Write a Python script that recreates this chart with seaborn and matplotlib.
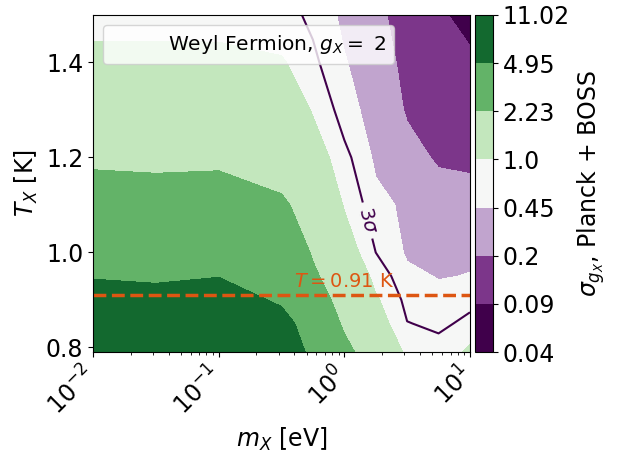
import numpy as np
import matplotlib
matplotlib.use("Agg")
import matplotlib.pyplot as plt
import matplotlib.transforms as mtransforms
import seaborn as sns

# ---- data ----
mass_eV = [0.01, 0.0316, 0.1, 0.316, 0.562, 1.0, 1.78, 3.16, 5.62, 10.0]
temp_K = [0.79, 0.85, 0.90, 0.95, 1.00, 1.10, 1.20, 1.30, 1.40, 1.50]

sigma_T079 = [8.47, 8.27, 8.53, 6.82, 4.32, 2.59, 1.47, 0.923, 0.819, 1.083]
sigma_T085 = [6.88, 6.71, 6.93, 6.05, 3.46, 2.05, 1.21, 0.709, 0.644, 0.793]
sigma_T090 = [5.77, 5.63, 5.81, 4.57, 2.85, 1.75, 1.05, 0.619, 0.562, 0.609]
sigma_T095 = [4.84, 4.68, 4.91, 3.90, 2.41, 1.49, 0.880, 0.511, 0.432, 0.464]
sigma_T100 = [4.06, 3.96, 4.09, 3.19, 2.12, 1.26, 0.698, 0.415, 0.368, 0.380]
sigma_T110 = [2.85, 2.78, 2.85, 2.45, 1.57, 0.969, 0.527, 0.392, 0.313, 0.255]
sigma_T120 = [2.04, 1.99, 2.02, 1.62, 1.22, 0.787, 0.402, 0.261, 0.179, 0.179]
sigma_T130 = [1.53, 1.52, 1.52, 1.32, 0.969, 0.571, 0.326, 0.186, 0.156, 0.125]
sigma_T140 = [1.137, 1.137, 1.127, 1.041, 0.756, 0.471, 0.269, 0.165, 0.135, 0.106]
sigma_T150 = [0.852, 0.852, 0.852, 0.787, 0.644, 0.386, 0.228, 0.150, 0.100, 0.068]

levels = [0.0408, 0.0907, 0.2019, 0.4493, 1.0, 2.2256, 4.953, 11.02]
level_labels = ["0.04", "0.09", "0.2", "0.45", "1.0", "2.23", "4.95", "11.02"]
three_sigma_level = 0.70
T_line = 0.91
legend_label = r"Weyl Fermion, $g_X = $ 2"

# ---- style ----
sns.set_style("ticks")
plt.rcParams["font.family"] = ["DejaVu Sans"]
plt.rcParams["mathtext.fontset"] = "dejavusans"
for k in ["text.color", "axes.labelcolor", "xtick.color", "ytick.color", "axes.edgecolor"]:
    plt.rcParams[k] = "black"
plt.rcParams["xtick.major.size"] = 3.5
plt.rcParams["ytick.major.size"] = 3.5
plt.rcParams["xtick.minor.size"] = 2.0
plt.rcParams["xtick.major.width"] = 0.8
plt.rcParams["ytick.major.width"] = 0.8
plt.rcParams["xtick.minor.width"] = 0.6
plt.rcParams["axes.linewidth"] = 0.8

prgn = sns.color_palette("PRGn", as_cmap=True)
band_pos = [0.0, 0.12, 0.3, 0.5, 0.643, 0.786, 0.929]
band_colors = [prgn(p) for p in band_pos]
line_color = "#dd5612"

fig = plt.figure(figsize=(6.27, 4.53), dpi=100)
ax = fig.add_axes([93 / 627, 101 / 453, 377 / 627, 337 / 453])
cax = fig.add_axes([475 / 627, 101 / 453, 18 / 627, 337 / 453])

sigma = np.array([sigma_T079, sigma_T085, sigma_T090, sigma_T095, sigma_T100,
                  sigma_T110, sigma_T120, sigma_T130, sigma_T140, sigma_T150])
Z = np.log10(sigma)
lev = np.log10(levels)

cf = ax.contourf(mass_eV, temp_K, Z, levels=lev, colors=band_colors)
cs = ax.contour(mass_eV, temp_K, Z, levels=[np.log10(three_sigma_level)],
                colors=[prgn(0.0)], linewidths=1.5, linestyles="solid")
ax.set_xscale("log")
ax.set_xlim(0.01, 10)
ax.set_ylim(0.79, 1.5)
ax.clabel(cs, fmt={cs.levels[0]: r"$3\sigma$"}, manual=[(1.69, 1.07)],
          inline=True, fontsize=14)

ax.axhline(T_line, color=line_color, ls="--", lw=2.5)
ax.text(0.40, 0.927, r"$T = 0.91$ K", color=line_color, fontsize=14, va="baseline")

ax.plot([], [], " ", label=legend_label)
ax.legend(loc="upper left", fontsize=14.5)

ax.set_yticks([0.8, 1.0, 1.2, 1.4])
ax.set_yticklabels(["0.8", "1.0", "1.2", "1.4"])
ax.tick_params(axis="both", which="both", labelsize=17)
ax.set_xlabel(r"$m_X$ [eV]", fontsize=17)
ax.set_ylabel(r"$T_X$ [K]", fontsize=17)
shift = mtransforms.ScaledTranslation(8 / 100, 0, fig.dpi_scale_trans)
for lab in ax.get_xticklabels():
    lab.set_rotation(45)
    lab.set_ha("right")
    lab.set_transform(lab.get_transform() + shift)

cb = fig.colorbar(cf, cax=cax, ticks=lev)
cb.ax.set_yticklabels(level_labels)
cb.ax.tick_params(labelsize=17)
cb.set_label(r"$\sigma_{g_X}$, Planck + BOSS", fontsize=17)

fig.savefig("out.png", dpi=100)
